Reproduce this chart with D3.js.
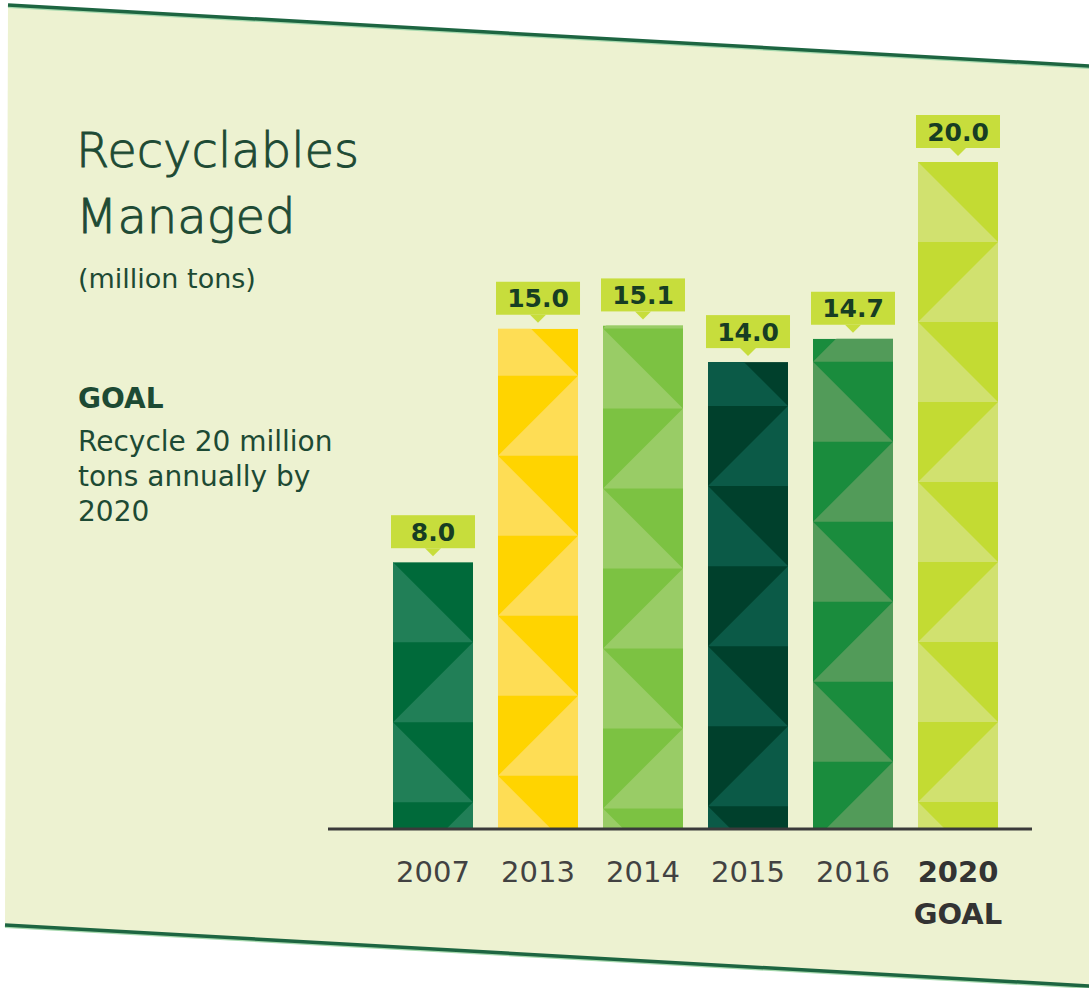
<!DOCTYPE html>
<html lang="en">
<head>
    <meta charset="UTF-8">
    <title>Recyclables Managed</title>
    <script src="https://d3js.org/d3.v7.min.js"></script>
    <style>
        html, body { margin: 0; padding: 0; background: #ffffff; }
        svg { display: block; }
        .title { font-family: "DejaVu Sans", sans-serif; font-weight: 200; fill: #1d4a34; stroke: #1d4a34; stroke-width: 0.9px; }
        .note { font-family: "DejaVu Sans", sans-serif; fill: #1d4a34; }
        .year { font-family: "DejaVu Sans", sans-serif; font-size: 29px; fill: #424242; }
        .val { font-family: "DejaVu Sans", sans-serif; font-weight: bold; font-size: 25px; fill: #173d23; }
    </style>
</head>
<body>
<svg width="1089" height="988"></svg>
<script>
    // data
    var years = ["2007", "2013", "2014", "2015", "2016", "2020"];
    var values = [8.0, 15.0, 15.1, 14.0, 14.7, 20.0];
    var valueLabels = ["8.0", "15.0", "15.1", "14.0", "14.7", "20.0"];
    var goalYear = "2020";
    var titleLines = ["Recyclables", "Managed"];
    var goalLines = ["Recycle 20 million", "tons annually by", "2020"];

    // bar colours: [base, lighter triangles]
    var palette = [
        ["#006a3a", "#217f57"],
        ["#ffd400", "#fedd55"],
        ["#7cc242", "#99cc66"],
        ["#00402c", "#0b5a47"],
        ["#1a8c3d", "#529b59"],
        ["#c3db33", "#d1e16f"]
    ];
    // where the triangle pattern starts, relative to each bar top (px)
    var tileOffset = [0, -33, 3, -36, 23, 0];

    var svg = d3.select("svg");
    var W = 1089, H = 988;

    // background panel, slightly tilted
    svg.append("polygon")
        .attr("points", "8,5 " + (W + 2) + ",66 " + (W + 2) + ",985 5,925")
        .attr("fill", "#edf2d1");

    function edge(x1, y1, x2, y2) {
        svg.append("line")
            .attr("x1", x1).attr("y1", y1 + 2).attr("x2", x2).attr("y2", y2 + 2)
            .attr("stroke", "#a6d9ae").attr("stroke-width", 2);
        svg.append("line")
            .attr("x1", x1).attr("y1", y1).attr("x2", x2).attr("y2", y2)
            .attr("stroke", "#1d6541").attr("stroke-width", 3.5);
    }
    edge(8, 5, W + 2, 66);
    edge(5, 925, W + 2, 986);

    // scales
    var x = d3.scaleBand().domain(years).range([393, 998]).paddingInner(0.238);
    var y = d3.scaleLinear().domain([0, 20]).range([829, 162]);
    var bw = x.bandwidth();

    var defs = svg.append("defs");
    var bars = svg.append("g");

    years.forEach(function(yr, i) {
        var x0 = x(yr), x1 = x0 + bw;
        var top = y(values[i]), bottom = y(0);
        var id = "clip" + i;
        defs.append("clipPath").attr("id", id)
            .append("rect")
            .attr("x", x0).attr("y", top)
            .attr("width", bw).attr("height", bottom - top);

        var g = bars.append("g").attr("clip-path", "url(#" + id + ")");
        g.append("rect")
            .attr("x", x0).attr("y", top)
            .attr("width", bw).attr("height", bottom - top)
            .attr("fill", palette[i][0]);

        // triangle tiles
        var tile = bw;
        var anchor = top + tileOffset[i];
        for (var k = -1; anchor + k * tile < bottom; k++) {
            var t = anchor + k * tile, b = t + tile;
            var pts = (Math.abs(k) % 2 === 0)
                ? [[x0, t], [x0, b], [x1, b]]
                : [[x1, t], [x1, b], [x0, b]];
            g.append("polygon")
                .attr("points", pts.map(function(p) { return p.join(","); }).join(" "))
                .attr("fill", palette[i][1]);
        }

        // value tag with pointer
        var cx = x0 + bw / 2;
        var boxB = top - 14, boxT = top - 47;
        svg.append("rect")
            .attr("x", x0 - 2).attr("y", boxT)
            .attr("width", bw + 4).attr("height", boxB - boxT)
            .attr("fill", "#c7dd3c");
        svg.append("polygon")
            .attr("points", (cx - 8) + "," + boxB + " " + (cx + 8) + "," + boxB + " " + cx + "," + (boxB + 8))
            .attr("fill", "#c7dd3c");
        svg.append("text")
            .attr("class", "val")
            .attr("x", cx).attr("y", (boxT + boxB) / 2 + 9)
            .attr("text-anchor", "middle")
            .text(valueLabels[i]);
    });

    // baseline
    svg.append("line")
        .attr("x1", x.range()[0] - 65).attr("x2", x.range()[1] + 34)
        .attr("y1", y(0)).attr("y2", y(0))
        .attr("stroke", "#3a3a3a").attr("stroke-width", 3);

    // category labels
    svg.selectAll("text.year")
        .data(years)
        .enter()
        .append("text")
        .attr("class", "year")
        .attr("x", d => x(d) + bw / 2)
        .attr("y", y(0) + 53)
        .attr("text-anchor", "middle")
        .style("font-weight", d => d === goalYear ? "bold" : null)
        .style("fill", d => d === goalYear ? "#333333" : null)
        .text(d => d);

    svg.append("text")
        .attr("class", "year")
        .attr("x", x(goalYear) + bw / 2)
        .attr("y", y(0) + 95)
        .attr("text-anchor", "middle")
        .style("font-weight", "bold")
        .style("fill", "#333333")
        .text("GOAL");

    // title block
    svg.selectAll("text.title")
        .data(titleLines)
        .enter()
        .append("text")
        .attr("class", "title")
        .attr("x", 76)
        .attr("y", (d, i) => 167 + i * 66)
        .style("font-size", "48px")
        .text(d => d);

    svg.append("text").attr("class", "note")
        .attr("x", 78).attr("y", 288)
        .style("font-size", "27px")
        .text("(million tons)");

    svg.append("text").attr("class", "note")
        .attr("x", 78).attr("y", 408)
        .style("font-size", "28px")
        .style("font-weight", "bold")
        .text("GOAL");

    svg.selectAll("text.goal")
        .data(goalLines)
        .enter()
        .append("text")
        .attr("class", "note goal")
        .attr("x", 78)
        .attr("y", (d, i) => 451 + i * 35)
        .style("font-size", "28px")
        .text(d => d);
</script>
</body>
</html>
